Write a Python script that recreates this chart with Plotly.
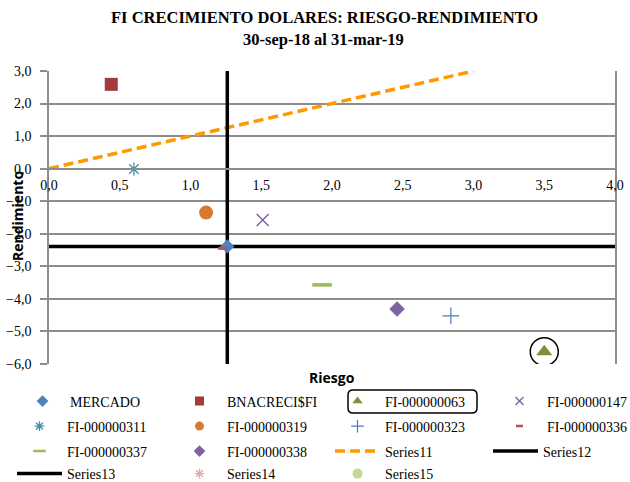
import plotly.graph_objects as go

# ---- data ----
fund_names = ["MERCADO", "BNACRECI$FI", "FI-000000063", "FI-000000147",
              "FI-000000311", "FI-000000319", "FI-000000323", "FI-000000336",
              "FI-000000337", "FI-000000338"]
riesgo = [1.26, 0.44, 3.50, 1.51, 0.60, 1.11, 2.84, 1.23, 1.93, 2.46]
rendimiento = [-2.39, 2.59, -5.62, -1.58, -0.01, -1.35, -4.52, -2.45, -3.57, -4.31]

series11_x = [0.0, 3.0]
series11_y = [0.0, 3.0]
series12_x = [0.0, 4.0]
series12_y = [-2.39, -2.39]
series13_x = [1.26, 1.26]
series13_y = [-6.0, 3.0]

x_range = [0, 4]
y_range = [-6, 3]

title_line1 = "FI CRECIMIENTO DOLARES: RIESGO-RENDIMIENTO"
title_line2 = "30-sep-18 al 31-mar-19"

# ---- styles ----
styles = {
    "MERCADO": dict(symbol="diamond", color="#4F81BD", size=11, lw=0, lsize=9),
    "BNACRECI$FI": dict(symbol="square", color="#A33B3B", size=13, lw=0, lsize=9),
    "FI-000000063": dict(symbol="triangle-up", color="#77933C", size=14, lw=0, lsize=9),
    "FI-000000147": dict(symbol="x-thin-open", color="#7D5FA0", size=12, lw=1.4, lsize=8),
    "FI-000000311": dict(symbol="asterisk-open", color="#3A93A8", size=11, lw=1.3, lsize=8),
    "FI-000000319": dict(symbol="circle", color="#D9782F", size=14, lw=0, lsize=9),
    "FI-000000323": dict(symbol="cross-thin-open", color="#4A7EBB", size=12, lw=1.2, lsize=9),
    "FI-000000336": dict(symbol="line-ew", color="#C0504D", size=7, lw=3, lsize=5),
    "FI-000000337": dict(symbol="line-ew", color="#9BBB59", size=14, lw=3.5, lsize=9),
    "FI-000000338": dict(symbol="diamond", color="#8064A2", size=12, lw=0, lsize=9),
}

serif = "Liberation Serif"
grid = "#8C8C8C"

L, R, T, B = 49, 15, 71, 118
W, H = 630, 482
pw, ph = W - L - R, H - T - B


def px_to_paper_x(px):
    return (px - L) / pw


def px_to_paper_y(py):
    return (H - B - py) / ph


# legend layout: (text start px, row centre px) for each entry in the reference
rows_y = [401.5, 426.5, 451.5, 474]
cols_text = [67, 227, 385, 547]
order = fund_names + ["Series11", "Series12", "Series13", "Series14", "Series15"]
entry_pos = {}
for i, n in enumerate(order):
    r, c = divmod(i, 4)
    tx = cols_text[c]
    if n == "MERCADO":
        tx = 70
    if n == "Series12":
        tx = 543
    entry_pos[n] = (tx, rows_y[r])

ITEMW = 45
legend_ids = {n: ("legend" if i == 0 else f"legend{i+1}") for i, n in enumerate(order)}

fig = go.Figure()

# reference lines first (drawn below markers)
line_series = [
    ("Series11", series11_x, series11_y, dict(color="#FF9900", width=3.5, dash="10px,5px")),
    ("Series12", series12_x, series12_y, dict(color="#000000", width=3.5)),
    ("Series13", series13_x, series13_y, dict(color="#000000", width=3.5)),
]
for n, xs, ys, ln in line_series:
    fig.add_trace(go.Scatter(x=xs, y=ys, mode="lines", name=n, line=ln,
                             legend=legend_ids[n], showlegend=True))

# data markers (legend shown by smaller proxy entries)
for n, xv, yv in zip(fund_names, riesgo, rendimiento):
    s = styles[n]
    fig.add_trace(go.Scatter(
        x=[xv], y=[yv], mode="markers", name=n, showlegend=False,
        marker=dict(symbol=s["symbol"], color=s["color"], size=s["size"],
                    line=dict(color=s["color"], width=s["lw"]))))

# legend proxies (same series, small legend markers as in the reference)
for n in fund_names:
    s = styles[n]
    fig.add_trace(go.Scatter(
        x=[None], y=[None], mode="markers", name=n, legend=legend_ids[n],
        marker=dict(symbol=s["symbol"], color=s["color"], size=s["lsize"],
                    line=dict(color=s["color"], width=min(s["lw"], 2.5) if s["lw"] else 0))))

fig.add_trace(go.Scatter(x=[None], y=[None], mode="markers", name="Series14",
                         legend=legend_ids["Series14"],
                         marker=dict(symbol="asterisk-open", color="#E0A8A6", size=8,
                                     line=dict(color="#E0A8A6", width=1.3))))
fig.add_trace(go.Scatter(x=[None], y=[None], mode="markers", name="Series15",
                         legend=legend_ids["Series15"],
                         marker=dict(symbol="circle", color="#C3D69B", size=10)))

layout_legends = {}
for n in order:
    tx, ty = entry_pos[n]
    layout_legends[legend_ids[n]] = dict(
        orientation="v", xanchor="left", yanchor="middle",
        x=px_to_paper_x(tx - (ITEMW + 10)), y=px_to_paper_y(ty),
        itemwidth=ITEMW,
        font=dict(family=serif, size=14, color="#000000"),
        bgcolor="rgba(0,0,0,0)", borderwidth=0, itemclick=False)

x0 = (0 - y_range[0]) / (y_range[1] - y_range[0])

fig.update_layout(
    width=W, height=H,
    margin=dict(l=L, r=R, t=T, b=B, autoexpand=False),
    paper_bgcolor="white", plot_bgcolor="white",
    separators=",.",
    showlegend=True,
    xaxis=dict(range=x_range, dtick=0.5, tick0=0, tickformat=".1f",
               showgrid=False, zeroline=False,
               showline=True, linecolor=grid, linewidth=1.5,
               anchor="free", position=x0, ticks="", ticklabelstandoff=4,
               tickfont=dict(family=serif, size=14, color="#000000")),
    yaxis=dict(range=y_range, dtick=1, tick0=0, tickformat=".1f",
               showgrid=True, gridcolor=grid, gridwidth=1.5, zeroline=False,
               showline=True, linecolor=grid, linewidth=1.5, mirror=True,
               ticks="outside", ticklen=7, tickcolor=grid, tickwidth=1.5,
               ticklabelstandoff=6,
               tickfont=dict(family=serif, size=14, color="#000000")),
    annotations=[
        dict(text=f"<b>{title_line1}</b>", xref="paper", yref="paper",
             x=px_to_paper_x(324), y=px_to_paper_y(18), xanchor="center", yanchor="middle",
             showarrow=False, font=dict(family=serif, size=16.5, color="#000000")),
        dict(text=f"<b>{title_line2}</b>", xref="paper", yref="paper",
             x=px_to_paper_x(323), y=px_to_paper_y(40), xanchor="center", yanchor="middle",
             showarrow=False, font=dict(family=serif, size=16.5, color="#000000")),
        dict(text="<b>Riesgo</b>", xref="paper", yref="paper",
             x=px_to_paper_x(332), y=px_to_paper_y(377), xanchor="center", yanchor="middle",
             showarrow=False, font=dict(family="Open Sans", size=14, color="#000000")),
        dict(text="<b>Rendimiento</b>", xref="paper", yref="paper", textangle=-90,
             x=px_to_paper_x(17), y=px_to_paper_y(216), xanchor="center", yanchor="middle",
             showarrow=False, font=dict(family="Open Sans", size=14, color="#000000")),
    ],
    **layout_legends,
)

# circle highlighting FI-000000063
fig.add_shape(type="circle", xref="x", yref="y", xsizemode="pixel", ysizemode="pixel",
              xanchor=riesgo[2], yanchor=rendimiento[2], x0=-14, x1=14, y0=-14, y1=14,
              line=dict(color="#000000", width=1.5))

# rounded box around the FI-000000063 legend entry
bx0, bx1 = px_to_paper_x(348), px_to_paper_x(477)
by0, by1 = px_to_paper_y(413), px_to_paper_y(390)
rx, ry = 5 / pw, 5 / ph
path = (f"M {bx0+rx},{by1} L {bx1-rx},{by1} Q {bx1},{by1} {bx1},{by1-ry} "
        f"L {bx1},{by0+ry} Q {bx1},{by0} {bx1-rx},{by0} L {bx0+rx},{by0} "
        f"Q {bx0},{by0} {bx0},{by0+ry} L {bx0},{by1-ry} Q {bx0},{by1} {bx0+rx},{by1} Z")
fig.add_shape(type="path", xref="paper", yref="paper", path=path,
              line=dict(color="#000000", width=1.5))

fig.write_html("out.html")
